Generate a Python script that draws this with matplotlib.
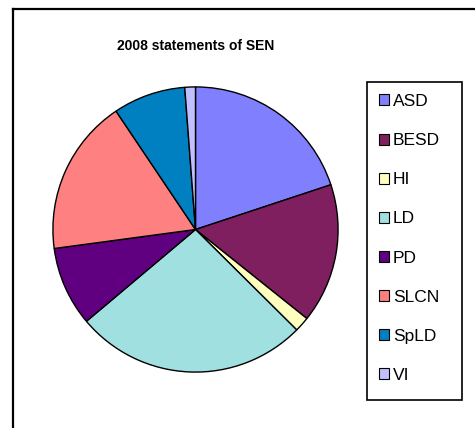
import matplotlib
matplotlib.use("Agg")
import matplotlib.pyplot as plt
from matplotlib.lines import Line2D
from matplotlib.patches import Rectangle

labels = ["ASD", "BESD", "HI", "LD", "PD", "SLCN", "SpLD", "VI"]
shares = [19.9, 15.8, 1.7, 26.4, 9.0, 17.7, 8.2, 1.2]
colors = ["#8080FF", "#7F1F5F", "#FFFFC0", "#A0E0E0", "#600080", "#FF8080", "#0080C0", "#C0C0FF"]

W, H = 475, 428
fig = plt.figure(figsize=(W / 100, H / 100), dpi=100)
plt.rcParams['font.family'] = ['Liberation Sans', 'DejaVu Sans']

# outer chart border (left and top visible)
fig.add_artist(Line2D([13 / W, 13 / W], [0, 1 - 9 / H], color="black", lw=1.6))
fig.add_artist(Line2D([13 / W, 1], [1 - 9 / H, 1 - 9 / H], color="black", lw=1.6))

cx, cy, r = 195.5, 229.5, 144
ax = fig.add_axes([(cx - r) / W, (H - cy - r) / H, 2 * r / W, 2 * r / H])
wedges, _ = ax.pie(shares, colors=colors, startangle=90, counterclock=False,
                   wedgeprops=dict(edgecolor="black", linewidth=1.0))
ax.set_xlim(-1.01, 1.01)
ax.set_ylim(-1.01, 1.01)
ax.set_aspect("auto")

fig.text(cx / W, 1 - 46 / H, "2008 statements of SEN", ha="center", va="center",
         fontsize=10, fontweight="bold")

# legend box drawn separately
fig.add_artist(Rectangle((367 / W, 1 - 400 / H), 95 / W, 318 / H, transform=fig.transFigure,
                         facecolor="none", edgecolor="black", lw=1.2))
leg = fig.legend(wedges, labels, loc="upper left", bbox_to_anchor=(379 / W, 1 - 94 / H),
                 frameon=False, fontsize=12.5,
                 labelspacing=1.39, handlelength=0.6, handleheight=0.6,
                 handletextpad=0.2, borderpad=0, borderaxespad=0)
for h in leg.legend_handles:
    h.set_linewidth(0.8)

fig.savefig("out.png", dpi=100)
